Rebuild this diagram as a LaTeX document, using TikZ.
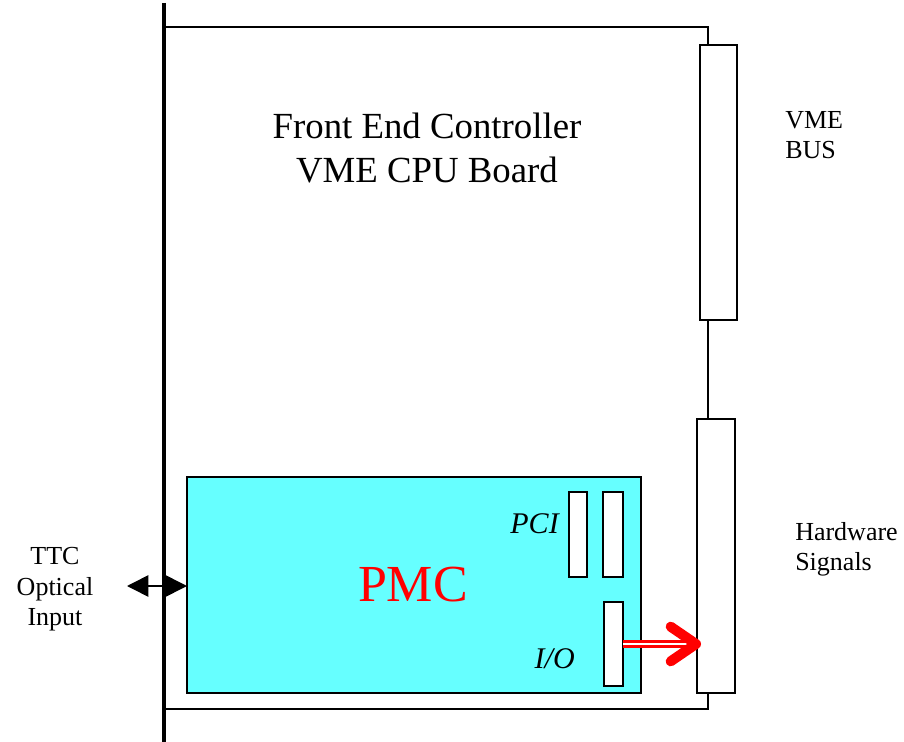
\documentclass[tikz,border=0pt]{standalone}
\usepackage{fontspec}
\setmainfont{Liberation Serif}
\usetikzlibrary{arrows.meta,positioning}
\definecolor{pmccyan}{HTML}{66FFFF}
\definecolor{sigred}{HTML}{FF0000}

\begin{document}
\begin{tikzpicture}[x=0.75pt,y=-0.75pt,
  board/.style={line width=2pt,line join=miter},
  panel/.style={line width=2.6pt},
  conn/.style={draw=black,line width=1.4pt,fill=white,inner sep=0pt,outer sep=0pt,anchor=north west},
  card/.style={draw=black,line width=1.4pt,fill=pmccyan,inner sep=0pt,outer sep=0pt,anchor=north west},
  lab/.style={font=\fontsize{19.5}{23}\selectfont,inner sep=0pt},
  ital/.style={font=\itshape\fontsize{22.5}{26}\selectfont,inner sep=0pt},
  sig/.style={draw=sigred,line width=1.8pt,double=white,double distance=2pt,
    -{Straight Barb[length=19pt,width=26pt,line width=7.5pt,round]}},
  ttcarrow/.style={line width=1.2pt,
    {Triangle[length=16pt,width=16pt]}-{Triangle[length=16pt,width=16pt]}}]
\useasboundingbox (0,0) rectangle (904,742);
% board outline and front panel
\draw[board] (164,27) -- (708,27) -- (708,709) -- (164,709);
\draw[panel] (164,3) -- (164,742);
\node[font=\fontsize{27.6}{33}\selectfont,align=center,inner sep=0pt,anchor=north] (title) at (427,113)
  {Front End Controller\\VME CPU Board};
% backplane connectors
\node[conn,minimum width=27.75pt,minimum height=206.25pt] (vmebus) at (700,45) {};
\node[conn,minimum width=28.5pt,minimum height=205.5pt] (hwconn) at (697,419) {};
\node[lab,align=left,anchor=north west] (vmelab) at (785,111) {VME\\BUS};
\node[lab,align=left,anchor=north west] (hwlab) at (795,522) {Hardware\\Signals};
% mezzanine card
\node[card,minimum width=340.5pt,minimum height=162pt] (pmc) at (187,477) {};
\node[font=\fontsize{39}{46}\selectfont,text=sigred,inner sep=0pt] (pmclab) at (413,585) {PMC};
\node[conn,minimum width=13.5pt,minimum height=63.75pt] (pcia) at (569,492) {};
\node[conn,minimum width=15pt,minimum height=63.75pt] (pcib) at (603,492) {};
\node[conn,minimum width=14.25pt,minimum height=63pt] (io) at (604,602) {};
\node[ital,anchor=base east] (pcilab) at (559,533) {PCI};
\node[ital,anchor=base east] (iolab) at (575,668) {I/O};
% signals
\draw[sig,shorten >=-3pt] (io.east) -- (io.east -| hwconn.west);
\node[lab,align=center,anchor=north] (ttc) at (55,547) {TTC\\Optical\\Input};
\coordinate (ttcend) at (127,586);
\draw[ttcarrow] (ttcend) -- (pmc.west |- ttcend);
\end{tikzpicture}
\end{document}
